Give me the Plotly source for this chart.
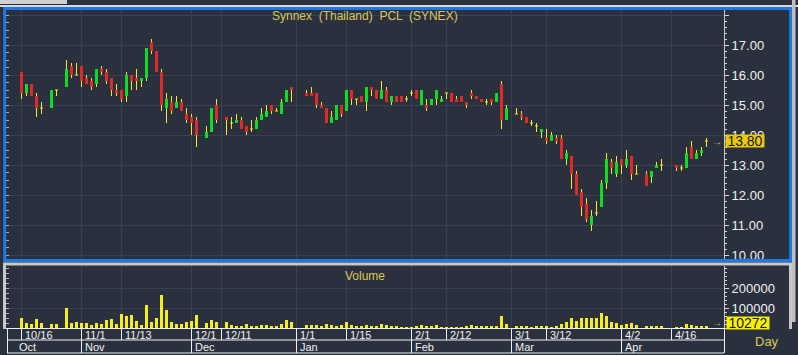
import plotly.graph_objects as go
import pandas as pd

# ---------------- data ----------------
dates = pd.bdate_range("2017-10-16", "2018-04-25")   # one slot per weekday

opens = [
    16.1, 15.4, 15.7, 15.3, 14.9, None, 14.9, 15.5, None, 15.6,
    16.3, 16.0, 16.3, 15.9, 15.8, 15.7, 16.2, 16.1, 15.9, 15.5,
    15.5, 15.3, 16.0, 15.9, 15.8, 15.9, 17.1, 16.8, 16.1, 14.9,
    15.1, 14.9, 15.1, 14.7, 14.6, 14.5, None, 13.9, 14.1, 15.0,
    None, 14.6, 14.4, 14.4, 14.5, 14.3, 14.2, 14.2, 14.5, 14.6,
    15.0, 14.8, 14.7, 15.1, 15.6, None, None, 15.4, 15.4, 15.4,
    15.0, 14.9, 14.4, 14.5, 15.0, 14.8, 15.5, 15.2, 15.3, 15.1,
    15.6, 15.5, 15.2, 15.5, 15.1, 15.3, 15.3, 15.2, 15.4, 15.5,
    15.0, 15.0, 15.0, 15.2, 15.1, 15.4, 15.4, 15.2, 15.3, 15.1,
    15.4, 15.3, 15.2, 15.1, 15.2, 15.1, 15.7, 14.5, None, 14.7,
    14.7, 14.6, 14.4, 14.3, 14.1, 13.9, 13.8, 13.9, 13.9, 13.2,
    13.3, 12.7, 12.1, 11.7, 11.0, 11.4, 11.6, 12.4, 13.1, 12.7,
    13.2, 13.0, 13.3, 12.7, None, 12.7, 12.6, 12.9, 13.0, None,
    None, 13.0, 12.9, 12.9, 13.6, 13.2, 13.4, 13.8,
]
highs = [
    16.1, 15.7, 15.7, 15.4, 15.1, None, 15.5, 15.5, None, 16.5,
    16.4, 16.4, 16.3, 16.0, 15.9, 16.2, 16.3, 16.2, 15.9, 15.7,
    15.5, 16.1, 16.0, 16.2, 15.9, 16.9, 17.2, 16.8, 16.2, 15.4,
    15.3, 15.3, 15.2, 14.9, 14.7, 14.6, None, 14.3, 14.9, 15.2,
    None, 14.6, 14.6, 14.7, 14.6, 14.3, 14.5, 14.6, 14.9, 15.0,
    15.0, 14.9, 15.2, 15.5, 15.6, None, None, 15.5, 15.6, 15.4,
    15.1, 14.9, 14.8, 15.0, 15.0, 15.5, 15.5, 15.2, 15.3, 15.6,
    15.6, 15.5, 15.8, 15.6, 15.3, 15.3, 15.3, 15.3, 15.5, 15.5,
    15.5, 15.2, 15.2, 15.5, 15.3, 15.4, 15.4, 15.3, 15.3, 15.1,
    15.5, 15.3, 15.2, 15.2, 15.2, 15.4, 15.8, 15.0, None, 14.9,
    14.8, 14.6, 14.5, 14.4, 14.2, 14.2, 14.1, 14.0, 14.0, 13.5,
    13.3, 12.8, 12.2, 11.9, 11.5, 11.8, 12.5, 13.4, 13.2, 13.3,
    13.2, 13.5, 13.3, 13.0, None, 12.8, 12.8, 13.1, 13.2, None,
    None, 13.0, 13.0, 13.6, 13.8, 13.5, 13.6, 13.9,
]
lows = [
    15.2, 15.3, 15.3, 14.6, 14.7, None, 14.9, 15.3, None, 15.6,
    15.9, 16.0, 15.6, 15.7, 15.5, 15.6, 16.0, 15.7, 15.3, 15.3,
    15.1, 15.1, 15.5, 15.5, 15.6, 15.8, 16.7, 16.1, 14.8, 14.4,
    14.7, 14.9, 14.8, 14.4, 14.0, 13.6, None, 13.9, 14.1, 14.4,
    None, 14.0, 14.2, 14.4, 14.2, 14.0, 14.1, 14.2, 14.5, 14.6,
    14.7, 14.8, 14.7, 15.1, 15.1, None, None, 15.3, 15.3, 14.9,
    14.9, 14.4, 14.4, 14.5, 14.6, 14.8, 15.0, 15.0, 15.1, 14.8,
    15.3, 15.2, 15.2, 15.1, 15.0, 15.1, 15.1, 15.1, 15.3, 15.2,
    15.0, 14.8, 15.0, 15.0, 15.1, 15.2, 15.1, 15.1, 15.1, 14.9,
    15.2, 15.2, 15.1, 15.0, 15.0, 15.1, 14.2, 14.5, None, 14.7,
    14.5, 14.4, 14.3, 14.1, 13.9, 13.7, 13.8, 13.7, 13.2, 13.0,
    12.2, 12.0, 11.3, 11.1, 10.8, 11.3, 11.6, 12.2, 12.7, 12.6,
    12.7, 12.9, 12.5, 12.7, None, 12.3, 12.4, 12.9, 12.8, None,
    None, 12.8, 12.8, 12.9, 13.2, 13.2, 13.3, 13.6,
]
closes = [
    15.4, 15.7, 15.3, 14.9, 14.9, None, 15.5, 15.5, None, 16.2,
    16.0, 16.0, 15.8, 15.7, 15.6, 16.2, 16.1, 15.8, 15.5, 15.4,
    15.2, 16.0, 15.8, 15.8, 15.9, 16.9, 16.8, 16.1, 15.0, 15.2,
    14.8, 15.1, 14.8, 14.5, 14.4, 14.0, None, 14.1, 14.9, 14.5,
    None, 14.5, 14.4, 14.5, 14.2, 14.1, 14.2, 14.5, 14.7, 14.8,
    14.8, 14.8, 15.1, 15.5, 15.5, None, None, 15.3, 15.3, 15.0,
    14.9, 14.4, 14.6, 15.0, 14.7, 15.5, 15.2, 15.2, 15.1, 15.6,
    15.5, 15.2, 15.5, 15.1, 15.3, 15.1, 15.1, 15.2, 15.4, 15.2,
    15.5, 14.9, 15.2, 15.5, 15.2, 15.4, 15.1, 15.1, 15.1, 15.0,
    15.3, 15.2, 15.1, 15.1, 15.1, 15.4, 14.5, 14.9, None, 14.7,
    14.6, 14.4, 14.4, 14.3, 14.2, 13.8, 14.0, 13.8, 13.2, 13.4,
    12.7, 12.0, 11.6, 11.2, 11.3, 11.4, 12.4, 13.2, 12.9, 13.1,
    13.0, 13.2, 12.7, 12.7, None, 12.3, 12.8, 13.0, 13.0, None,
    None, 12.9, 12.9, 13.4, 13.2, 13.4, 13.5, 13.8,
]
volumes = [
    51000, 25000, 20000, 46000, 25000, None, 20000, 20000, None, 101000,
    25000, 31000, 25000, 25000, 15000, 25000, 20000, 41000, 46000, 20000,
    70000, 61000, 65000, 35000, 15000, 115000, 31000, 51000, 165000, 90000,
    31000, 20000, 20000, 31000, 36000, 65000, None, 25000, 40000, 31000,
    None, 31000, 15000, 10000, 10000, 20000, 10000, 10000, 15000, 15000,
    10000, 10000, 20000, 40000, 31000, None, None, 15000, 15000, 15000,
    10000, 20000, 15000, 10000, 15000, 31000, 15000, 10000, 10000, 15000,
    10000, 10000, 20000, 15000, 10000, 10000, 5000, 5000, 5000, 10000,
    15000, 10000, 10000, 15000, 5000, 5000, 5000, 5000, 5000, 10000,
    15000, 10000, 10000, 10000, 10000, 10000, 60000, 20000, None, 10000,
    10000, 10000, 5000, 10000, 10000, 10000, 5000, 10000, 20000, 30000,
    51000, 35000, 51000, 51000, 51000, 51000, 76000, 60000, 30000, 25000,
    15000, 20000, 25000, 15000, None, 10000, 10000, 10000, 10000, None,
    None, 5000, 5000, 20000, 15000, 10000, 10000, 10272,
]

day_labels = ["10/16", "11/1", "11/13", "12/1", "12/11", "1/1", "1/15",
              "2/1", "2/12", "3/1", "3/12", "4/2", "4/16"]
month_labels = ["Oct", "Nov", "Dec", "Jan", "Feb", "Mar", "Apr"]
price_ticks = [10, 11, 12, 13, 14, 15, 16, 17, 18]
volume_ticks = [100000, 200000]
title_text = "Synnex  (Thailand)  PCL  (SYNEX)"

# ---------------- styling / geometry ----------------
BG = "#2a303e"
GRID = "#3a4252"
UP = "#10dc28"
DOWN = "#e02a2a"
WICK = "#f2ea22"
VOLC = "#f4ef1c"
GOLD = "#dcc85a"
WHITE = "#f0f0f0"
BLUE = "#1e78e6"
LIGHT = "#c8c8c8"
FONT = "Liberation Sans"

W, H = 798, 355
ML, MR, MT, MB = 6, 74, 10, 27
PW, PH = W - ML - MR, H - MT - MB
BOTTOM = H - MB          # pixel row of plot bottom


def fx(px):
    return (px - ML) / PW


def fy(py):
    return (BOTTOM - py) / PH


SLOT_PX, FIRST_PX = 5.0, 21.5
x_lo = (ML - FIRST_PX) / SLOT_PX
x_hi = x_lo + PW / SLOT_PX

MAIN_BOTTOM_PX, VOL_TOP_PX = 259, 266
PX_PER_PRICE, PRICE_REF, PRICE_REF_PX = 30.0, 10.0, 255.0
p_lo = PRICE_REF - (MAIN_BOTTOM_PX - PRICE_REF_PX) / PX_PER_PRICE
p_hi = PRICE_REF + (PRICE_REF_PX - MT) / PX_PER_PRICE
PX_PER_VOL = 20.0 / 100000
v_hi = (BOTTOM - VOL_TOP_PX) / PX_PER_VOL

n = len(dates)
idx = list(range(n))
labels_md = [f"{d.month}/{d.day}" for d in dates]
day_idx = [labels_md.index(s) for s in day_labels]
month_idx = [next(i for i, d in enumerate(dates) if d.strftime("%b") == m) for m in month_labels]

# ---------------- marks ----------------
wx, wy = [], []
ux, uy, dnx, dny, jx, jy = [], [], [], [], [], []
HALF = 0.3
for i in idx:
    o, h, l, c = opens[i], highs[i], lows[i], closes[i]
    if o is None:
        continue
    wx += [i, i, None]
    wy += [h, l, None]
    if c > o:
        ux += [i, i, None]
        uy += [o, c, None]
    elif c < o:
        dnx += [i, i, None]
        dny += [o, c, None]
    else:
        jx += [i - HALF, i + HALF, None]
        jy += [o, o, None]

fig = go.Figure()
fig.add_trace(go.Scatter(x=wx, y=wy, mode="lines", line=dict(color=WICK, width=1),
                         hoverinfo="skip", xaxis="x", yaxis="y"))
fig.add_trace(go.Scatter(x=ux, y=uy, mode="lines", line=dict(color=UP, width=3),
                         hoverinfo="skip", xaxis="x", yaxis="y"))
fig.add_trace(go.Scatter(x=dnx, y=dny, mode="lines", line=dict(color=DOWN, width=3),
                         hoverinfo="skip", xaxis="x", yaxis="y"))
fig.add_trace(go.Scatter(x=jx, y=jy, mode="lines", line=dict(color=WICK, width=1),
                         hoverinfo="skip", xaxis="x", yaxis="y"))
fig.add_trace(go.Bar(x=idx, y=volumes, width=0.6, marker=dict(color=VOLC, line=dict(width=0)),
                     hoverinfo="skip", xaxis="x2", yaxis="y2"))
# carriers for the left-side tick rulers
fig.add_trace(go.Scatter(x=[None], y=[None], xaxis="x", yaxis="y3", hoverinfo="skip"))
fig.add_trace(go.Scatter(x=[None], y=[None], xaxis="x2", yaxis="y4", hoverinfo="skip"))

last_i = max(i for i in idx if closes[i] is not None)
last_close = closes[last_i]
last_vol = volumes[last_i]

ann = []
ann.append(dict(text=title_text, xref="paper", yref="paper", x=0.5, y=fy(15.8),
                xanchor="center", yanchor="middle", showarrow=False,
                font=dict(family=FONT, size=12, color=GOLD)))
ann.append(dict(text="Volume", xref="paper", yref="paper", x=0.5, y=fy(276),
                xanchor="center", yanchor="middle", showarrow=False,
                font=dict(family=FONT, size=12, color=GOLD)))
ann.append(dict(text=f"{last_close:.2f}", xref="paper", yref="y", x=fx(725), y=last_close,
                xanchor="left", yanchor="middle", showarrow=False, width=38, height=12,
                bgcolor="#e8c810", borderpad=0,
                font=dict(family=FONT, size=14, color="#1a1a1a")))
ann.append(dict(text=f"{last_vol}", xref="paper", yref="y2", x=fx(726), y=last_vol,
                xanchor="left", yanchor="middle", yshift=3, showarrow=False, width=42, height=12,
                bgcolor="#f6f000", borderpad=0,
                font=dict(family=FONT, size=14, color="#1a1a1a")))
ann.append(dict(text="→", xref="x", yref="y", x=n + 1, y=last_close, showarrow=False,
                xanchor="center", yanchor="middle", font=dict(family=FONT, size=10, color=GOLD)))
ann.append(dict(text="→", xref="x2", yref="y2", x=n + 1, y=last_vol, yshift=3, showarrow=False,
                xanchor="center", yanchor="middle", font=dict(family=FONT, size=10, color=GOLD)))
ann.append(dict(text="Day", xref="paper", yref="paper", x=fx(767), y=fy(341),
                xanchor="center", yanchor="middle", showarrow=False,
                font=dict(family=FONT, size=13, color=GOLD)))
for lab, i in zip(day_labels, day_idx):
    ann.append(dict(text=lab, xref="x2", yref="paper", x=i, y=fy(335), xshift=1,
                    xanchor="left", yanchor="middle", showarrow=False,
                    font=dict(family=FONT, size=11, color=WHITE)))
for k, (lab, i) in enumerate(zip(month_labels, month_idx)):
    xpos = i if k > 0 else x_lo + 2.0
    ann.append(dict(text=lab, xref="x2", yref="paper", x=xpos, y=fy(346.5), xshift=1,
                    xanchor="left", yanchor="middle", showarrow=False,
                    font=dict(family=FONT, size=11, color=WHITE)))

shapes = []


def pline(x0, y0, x1, y1, color, width=1):
    shapes.append(dict(type="line", xref="paper", yref="paper", x0=fx(x0), y0=fy(y0),
                       x1=fx(x1), y1=fy(y1), line=dict(color=color, width=width), layer="above"))


def prect(x0, y0, x1, y1, fill):
    shapes.append(dict(type="rect", xref="paper", yref="paper", x0=fx(x0), y0=fy(y0),
                       x1=fx(x1), y1=fy(y1), fillcolor=fill, line=dict(width=0), layer="above"))


# window chrome
prect(0, 0, 67, 4, "#d0d0d0")
pline(0, 6, 798, 6, "#d8d8d8", 2)
prect(792, 0, 795.5, 322, "#c0c0c0")
# volume panel frame (light grey)
pline(3, 264, 792, 264, LIGHT, 3)
pline(4.5, 264, 4.5, 329, LIGHT, 3)
pline(790.5, 264, 790.5, 329, LIGHT, 3)
# active price panel frame (blue)
shapes.append(dict(type="rect", xref="paper", yref="paper", x0=fx(4.7), y0=fy(260.6),
                   x1=fx(790.6), y1=fy(8.6), line=dict(color=BLUE, width=3), layer="above"))
# date scale rulers
pline(7, 340, 724, 340, WHITE)
pline(7, 353, 724, 353, WHITE)
pline(7.5, 329, 7.5, 353, WHITE)
pline(724.5, 329, 724.5, 353, WHITE)
for i in day_idx:
    shapes.append(dict(type="line", xref="x2", yref="paper", x0=i, x1=i, y0=fy(329), y1=fy(340),
                       line=dict(color=WHITE, width=1), layer="above"))
for i in month_idx[1:]:
    shapes.append(dict(type="line", xref="x2", yref="paper", x0=i, x1=i, y0=fy(340), y1=fy(353),
                       line=dict(color=WHITE, width=1), layer="above"))

price_text = [f"{v:.2f}" if v < max(price_ticks) else "" for v in price_ticks]
vol_text = [f"{v}" for v in volume_ticks]

fig.update_layout(
    width=W, height=H,
    margin=dict(l=ML, r=MR, t=MT, b=MB, pad=0),
    paper_bgcolor=BG, plot_bgcolor=BG, showlegend=False, bargap=0,
    font=dict(family=FONT, size=13, color=WHITE),
    xaxis=dict(domain=[0, 1], anchor="y", range=[x_lo, x_hi], tickmode="array", tickvals=day_idx,
               showticklabels=False, ticks="", showgrid=True, gridcolor=GRID, gridwidth=1,
               zeroline=False, showline=False, fixedrange=True),
    xaxis2=dict(domain=[0, 1], anchor="y2", matches="x", range=[x_lo, x_hi], tickmode="array",
                tickvals=day_idx, showticklabels=False, ticks="", showgrid=True, gridcolor=GRID,
                gridwidth=1, zeroline=False, showline=True, linecolor=WHITE, linewidth=1),
    yaxis=dict(domain=[fy(MAIN_BOTTOM_PX), 1], anchor="x", side="right", range=[p_lo, p_hi],
               tickmode="array", tickvals=price_ticks, ticktext=price_text,
               ticks="outside", ticklen=4, tickcolor="#d8d8d8", tickwidth=1,
               showline=True, linecolor="#c8c8c8", linewidth=1,
               showgrid=True, gridcolor=GRID, gridwidth=1, zeroline=False,
               minor=dict(dtick=0.2, tick0=10, ticks="outside", ticklen=2, tickcolor="#d8d8d8",
                          showgrid=False),
               tickfont=dict(family=FONT, size=13, color=WHITE), ticklabelstandoff=0),
    yaxis3=dict(overlaying="y", anchor="x", side="left", range=[p_lo, p_hi],
                tickmode="linear", tick0=10, dtick=0.25, ticks="inside", ticklen=3,
                tickcolor="#aab0bc", showticklabels=False, showgrid=False, zeroline=False,
                showline=False),
    yaxis2=dict(domain=[0, fy(VOL_TOP_PX)], anchor="x2", side="right", range=[0, v_hi],
                tickmode="array", tickvals=volume_ticks, ticktext=vol_text,
                ticks="outside", ticklen=4, tickcolor="#d8d8d8", tickwidth=1,
                showline=True, linecolor="#c8c8c8", linewidth=1,
                showgrid=True, gridcolor=GRID, gridwidth=1, zeroline=False,
                minor=dict(dtick=20000, tick0=0, ticks="outside", ticklen=2, tickcolor="#d8d8d8",
                           showgrid=False),
                tickfont=dict(family=FONT, size=13, color=WHITE), ticklabelstandoff=0),
    yaxis4=dict(overlaying="y2", anchor="x2", side="left", range=[0, v_hi],
                tickmode="linear", tick0=0, dtick=25000, ticks="inside", ticklen=3,
                tickcolor="#aab0bc", showticklabels=False, showgrid=False, zeroline=False,
                showline=False),
    annotations=ann,
    shapes=shapes,
)

fig.write_html("out.html", config={"displayModeBar": False, "staticPlot": True},
               post_script="document.body.style.margin='0';document.body.style.overflow='hidden';")
